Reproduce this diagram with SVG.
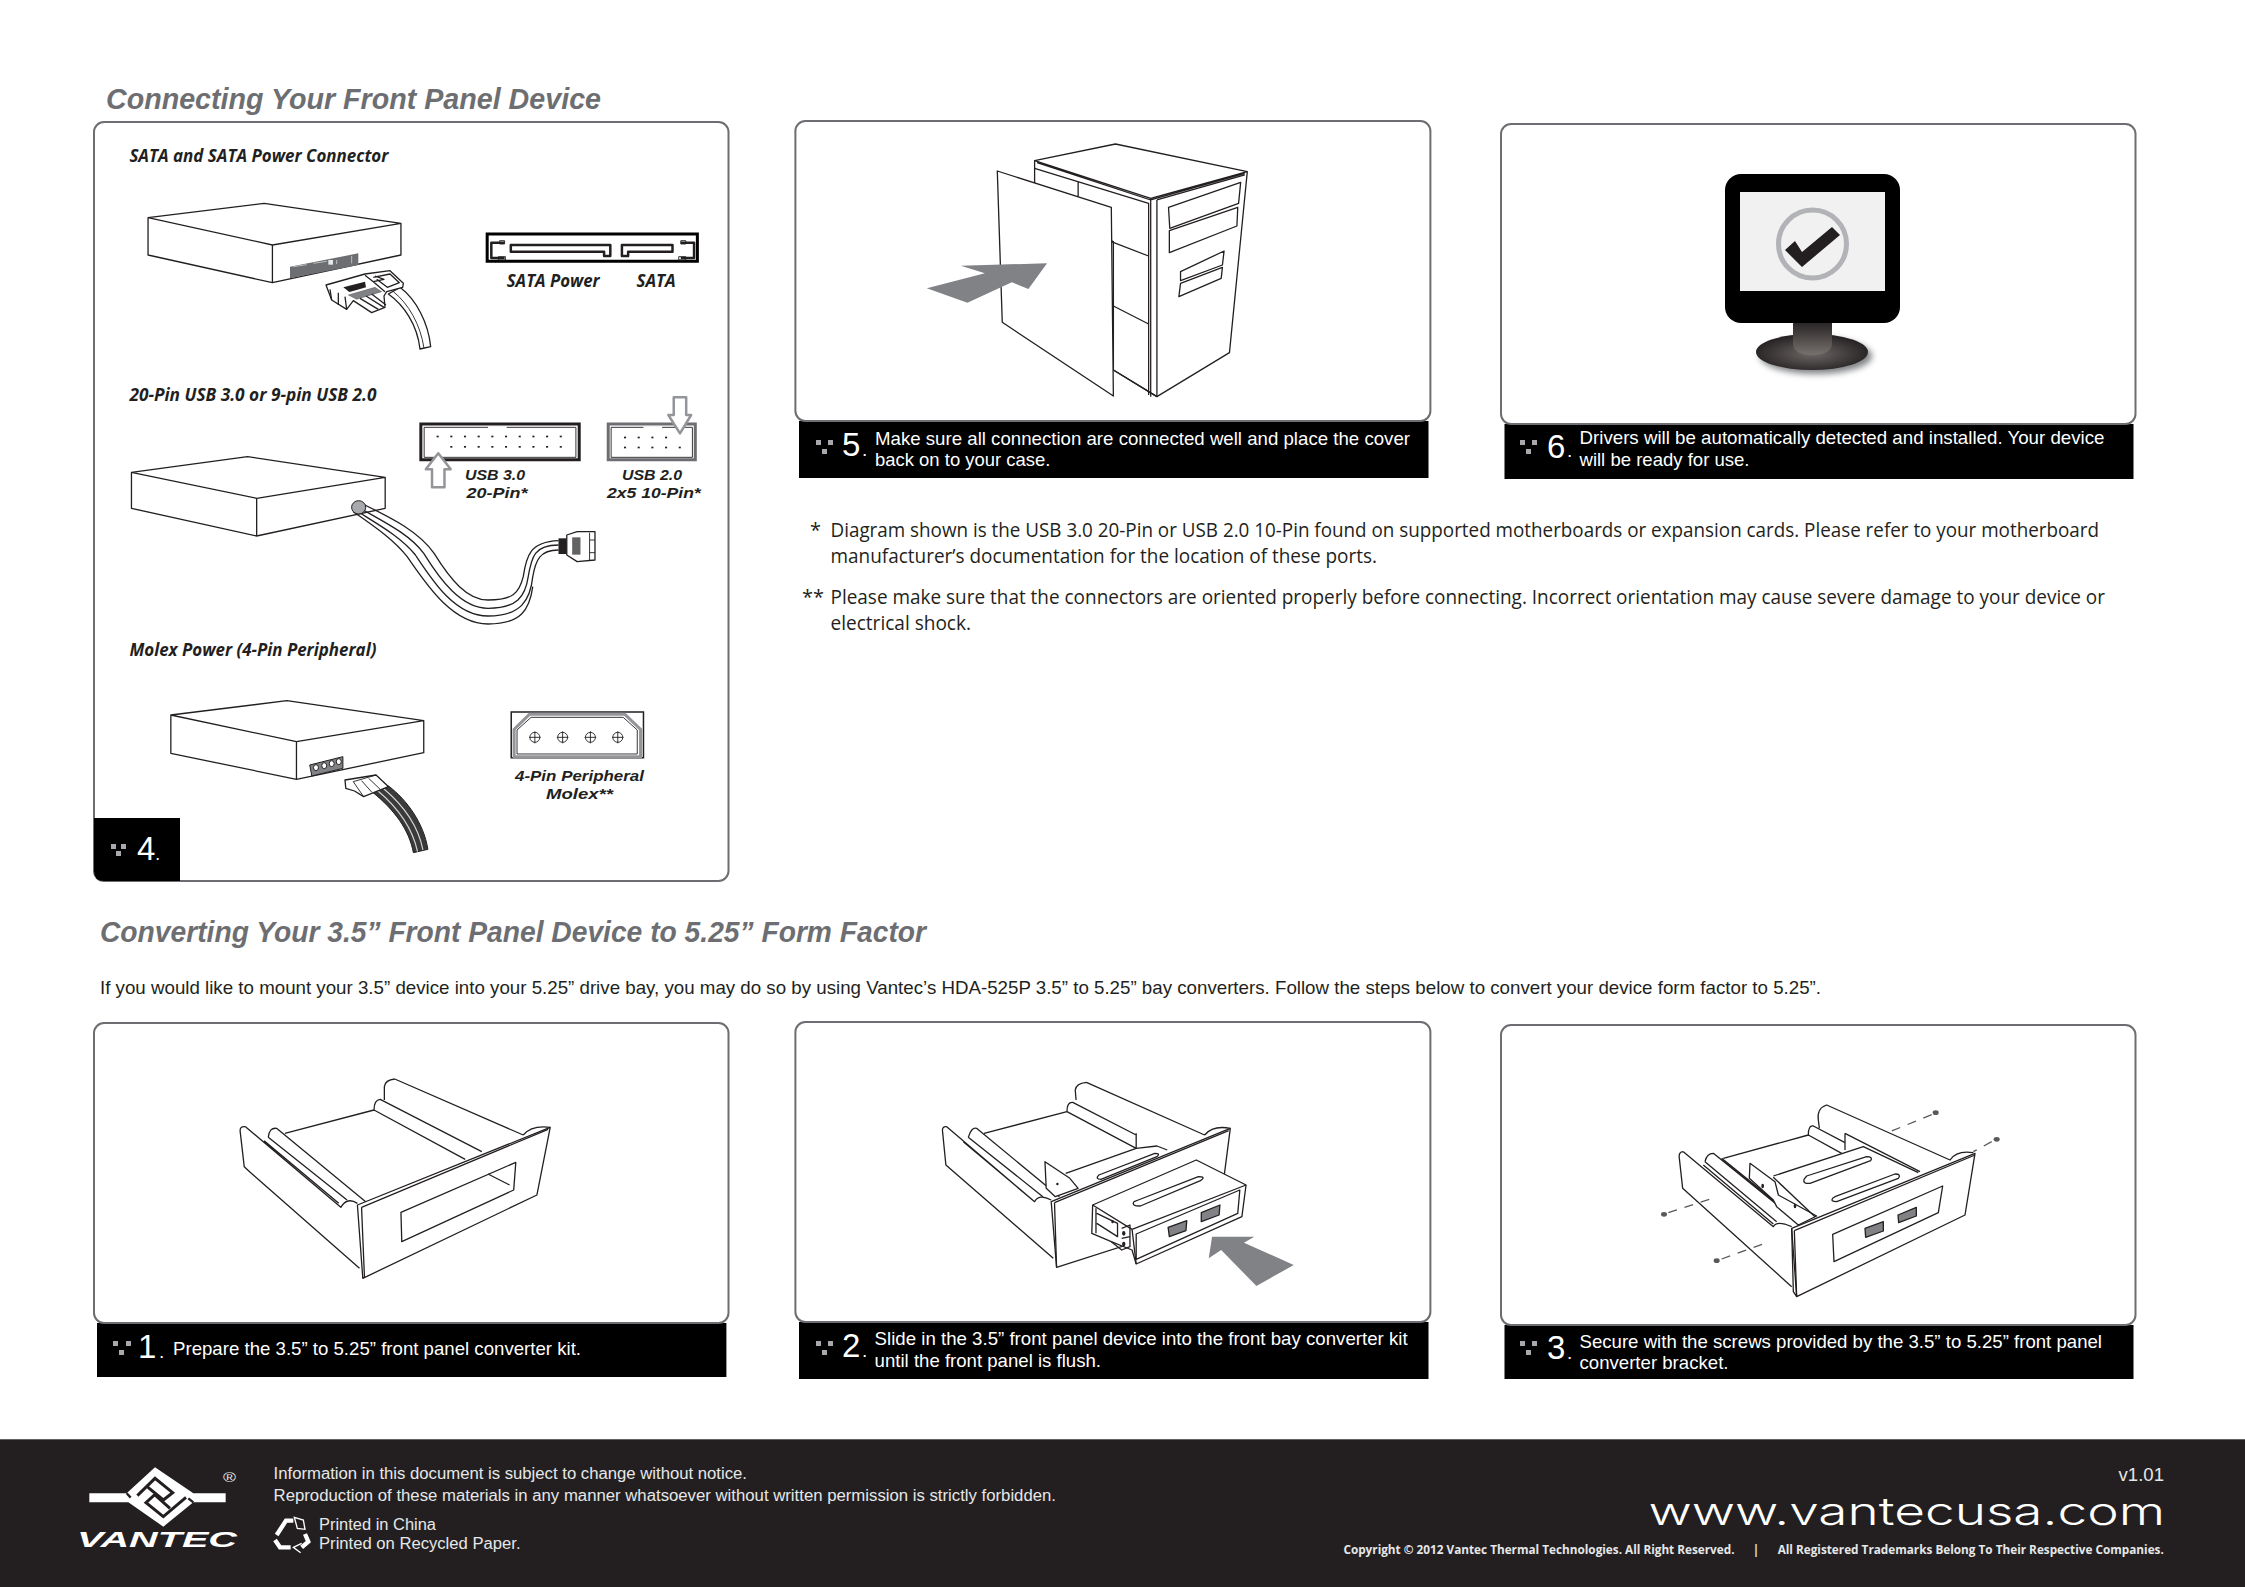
<svg xmlns="http://www.w3.org/2000/svg" width="2245" height="1587" viewBox="0 0 2245 1587">
<style>
.bg{fill:#fff}
.panel{fill:#fff;stroke:#6d6e71;stroke-width:2}
.strip{fill:#000}
.l,.lw,.g,.ln,.gp,.dash{vector-effect:non-scaling-stroke;stroke-linejoin:round}
.l{fill:none;stroke:#231f20;stroke-width:1.3}
.ln{fill:none;stroke:#231f20;stroke-width:.9}
.lw{fill:#fff;stroke:#231f20;stroke-width:1.3}
.gp{fill:#808285;stroke:#231f20;stroke-width:1.3}
.g{fill:#fff;stroke:#939598;stroke-width:2.5}
.dash{fill:none;stroke:#58595b;stroke-width:1.3;stroke-dasharray:9 8}
.k{fill:#231f20}
.scr{fill:#58595b}
.arrow{fill:#808285}
.h{font:italic bold 29px "Liberation Sans",Arial,sans-serif;fill:#6d6e71}
.s{font:19px "Liberation Sans",Arial,sans-serif;fill:#fff}
.n{font:33px "Liberation Sans",Arial,sans-serif;fill:#fff}
.p{font:18.5px "Liberation Sans",Arial,sans-serif;fill:#231f20}
.m{font:20px "Open Sans","Noto Sans",sans-serif;fill:#231f20}
.t{font:italic bold 18px "Open Sans","Noto Sans",sans-serif;fill:#231f20}
.u{font:italic bold 15.5px "Liberation Sans Narrow","Liberation Sans",Arial,sans-serif;fill:#231f20}
.f{font:16px "Liberation Sans",Arial,sans-serif;fill:#e6e7e8}
.c{font:bold 12.5px "Open Sans","Noto Sans",sans-serif;fill:#e6e7e8}
.d{fill:#a7a9ac}
</style>
<rect class="bg" width="2245" height="1587"/>

<g id="headings">
<text class="h" x="106" y="109" textLength="495" lengthAdjust="spacingAndGlyphs">Connecting Your Front Panel Device</text>
<text class="h" x="100" y="942" textLength="826" lengthAdjust="spacingAndGlyphs">Converting Your 3.5” Front Panel Device to 5.25” Form Factor</text>
<text class="p" x="100" y="994" textLength="1721" lengthAdjust="spacingAndGlyphs">If you would like to mount your 3.5” device into your 5.25” drive bay, you may do so by using Vantec’s HDA-525P 3.5” to 5.25” bay converters. Follow the steps below to convert your device form factor to 5.25”.</text>
</g>

<g id="step4">
<rect class="panel" x="94" y="122" width="634.5" height="759" rx="10"/>
<path class="strip" d="M94 818H180V881H104Q94 881 94 871Z"/>
<rect class="d" x="111" y="844" width="5" height="5"/><rect class="d" x="121" y="844" width="5" height="5"/><rect class="d" x="116" y="851" width="5" height="5"/>
<text class="n" x="137" y="860">4</text><text class="s" x="155" y="860">.</text>
<text class="t" x="129.4" y="161.7" textLength="259" lengthAdjust="spacingAndGlyphs">SATA and SATA Power Connector</text>
<text class="t" x="129.4" y="401" textLength="247" lengthAdjust="spacingAndGlyphs">20-Pin USB 3.0 or 9-pin USB 2.0</text>
<text class="t" x="129.4" y="656" textLength="247" lengthAdjust="spacingAndGlyphs">Molex Power (4-Pin Peripheral)</text>
<text class="t" x="506.7" y="286.7" textLength="93" lengthAdjust="spacingAndGlyphs">SATA Power</text>
<text class="t" x="636.4" y="286.7" textLength="39.4" lengthAdjust="spacingAndGlyphs">SATA</text>
<text class="u" x="465" y="480" textLength="60" lengthAdjust="spacingAndGlyphs">USB 3.0</text>
<text class="u" x="466.5" y="498" textLength="61" lengthAdjust="spacingAndGlyphs">20-Pin*</text>
<text class="u" x="622" y="480" textLength="60" lengthAdjust="spacingAndGlyphs">USB 2.0</text>
<text class="u" x="607" y="498" textLength="93.7" lengthAdjust="spacingAndGlyphs">2x5 10-Pin*</text>
<text class="u" x="515" y="781" textLength="129" lengthAdjust="spacingAndGlyphs">4-Pin Peripheral</text>
<text class="u" x="546" y="799" textLength="67" lengthAdjust="spacingAndGlyphs">Molex**</text>

<g id="sata-drive" transform="translate(90,120) scale(0.41459,0.33333)">
<path class="l" d="M140 293L420 250L750 310L440 375ZM140 293V405L440 488V375M440 488L750 405V310"/>
</g>
<g id="sata-plug" transform="translate(310,250) scale(0.33333)">
<path d="M-60 50L145 10V45L-60 85Z" fill="#6d6e71"/>
<path d="M-50 50L-10 44M10 40L50 34M80 30V42M125 18V40" stroke="#bcbec0" stroke-width="3" fill="none"/>
<rect x="55" y="30" width="14" height="14" fill="#e6e7e8"/>
<path class="lw" d="M330 297C322 225 282 165 235 132L270 112C320 150 355 220 362 290Z"/>
<path class="ln" d="M342 295C332 225 295 160 250 125"/>
<path class="lw" d="M48 105L165 72L240 62L280 100L278 112L230 125L222 138L225 172L185 188L130 152L110 178L65 150Z"/>
<path class="l" d="M165 76L190 95L222 88L195 78M190 95L225 125M190 82L240 72L268 98L232 112L200 88M65 150L60 118M85 165V128M110 178L105 140"/>
<path class="k" d="M100 112L165 95L168 112L140 120L118 126Z"/>
<path d="M115 135L195 112L215 125L140 148Z" fill="#808285" stroke="#231f20" stroke-width="1"/>
<path class="l" d="M150 145L205 178M168 138L222 172M185 132L228 165"/>
</g>

<g id="sata-diagram" transform="translate(90,120) scale(0.41459,0.33333)">
<rect x="958" y="342" width="507" height="82" fill="#fff" stroke="#000" stroke-width="3" vector-effect="non-scaling-stroke"/>
<path class="l" style="stroke-width:2.5" d="M1000 368H968V414H1000M1425 368H1457V414H1425"/>
<path class="ln" d="M988 362H1000V372H988ZM985 410H1002V420H985ZM1425 362H1437V372H1425ZM1420 410H1437V420H1420Z"/>
<path class="lw" style="stroke-width:2.5" d="M1015 375H1255V408H1240V395H1015Z"/>
<path class="lw" style="stroke-width:2.5" d="M1283 375H1405V395H1298V408H1283Z"/>
</g>

<g id="usb30-header" transform="translate(90,120) scale(0.41459,0.33333)">
<rect x="798" y="912" width="382" height="107" fill="#fff" stroke="#231f20" stroke-width="3" vector-effect="non-scaling-stroke"/>
<rect x="806" y="922" width="366" height="90" class="ln"/>
<rect x="960" y="919" width="45" height="6" fill="#fff"/>
<g class="k">
<rect x="836" y="947" width="5" height="5"/><rect x="869" y="947" width="5" height="5"/><rect x="902" y="947" width="5" height="5"/><rect x="935" y="947" width="5" height="5"/><rect x="968" y="947" width="5" height="5"/><rect x="1001" y="947" width="5" height="5"/><rect x="1034" y="947" width="5" height="5"/><rect x="1067" y="947" width="5" height="5"/><rect x="1100" y="947" width="5" height="5"/><rect x="1133" y="947" width="5" height="5"/>
<rect x="869" y="978" width="5" height="5"/><rect x="902" y="978" width="5" height="5"/><rect x="935" y="978" width="5" height="5"/><rect x="968" y="978" width="5" height="5"/><rect x="1001" y="978" width="5" height="5"/><rect x="1034" y="978" width="5" height="5"/><rect x="1067" y="978" width="5" height="5"/><rect x="1100" y="978" width="5" height="5"/><rect x="1133" y="978" width="5" height="5"/>
</g>
<path class="g" d="M840 1000L870 1048H855V1102H825V1048H810Z"/>
</g>

<g id="usb20-header" transform="translate(90,120) scale(0.41459,0.33333)">
<rect x="1250" y="912" width="210" height="107" fill="#fff" stroke="#6d6e71" stroke-width="3" vector-effect="non-scaling-stroke"/>
<rect x="1257" y="922" width="196" height="90" class="ln"/>
<rect x="1335" y="919" width="45" height="6" fill="#fff"/>
<g class="k">
<rect x="1288" y="950" width="5" height="5"/><rect x="1321" y="950" width="5" height="5"/><rect x="1354" y="950" width="5" height="5"/><rect x="1387" y="950" width="5" height="5"/>
<rect x="1288" y="980" width="5" height="5"/><rect x="1321" y="980" width="5" height="5"/><rect x="1354" y="980" width="5" height="5"/><rect x="1387" y="980" width="5" height="5"/><rect x="1420" y="980" width="5" height="5"/>
</g>
<path class="g" d="M1423 940L1450 885H1438V832H1408V885H1395Z"/>
</g>

<g id="usb-drive" transform="translate(90,530) scale(0.41459,0.33333)">
<path class="l" d="M100 -173L380 -220L712 -158L402 -95ZM100 -173V-65L402 18V-95M402 18L712 -65V-158"/>
<path class="l" d="M655 -80C720 -40 790 0 830 70C870 150 910 210 960 210C1020 210 1035 190 1045 140C1052 80 1060 35 1130 32"/>
<path class="l" d="M645 -70C700 -30 770 10 805 70C845 150 895 235 960 235C1030 235 1050 200 1057 140C1065 80 1072 45 1130 45"/>
<path class="l" d="M640 -60C690 -20 750 20 785 75C825 150 880 258 960 258C1040 258 1062 210 1068 140C1075 90 1085 60 1130 60"/>
<path class="l" d="M635 -55C680 -15 730 25 765 80C805 150 870 282 960 282C1040 282 1060 240 1068 170"/>
<ellipse cx="648" cy="-68" rx="17" ry="20" fill="#a7a9ac" stroke="#231f20" stroke-width="1" vector-effect="non-scaling-stroke"/>
<rect class="k" x="1130" y="25" width="20" height="47"/>
<path class="lw" d="M1150 15L1175 5H1218V90L1175 95L1150 75Z"/>
<rect class="k" x="1163" y="22" width="20" height="52" fill-opacity=".7"/>
<path class="ln" d="M1205 8V92M1205 30H1218M1205 68H1218"/>
</g>

<g id="molex-drive" transform="translate(90,530) scale(0.41459,0.33333)">
<path class="l" d="M195 555L475 512L805 572L498 635ZM195 555V670L498 748V635M498 748L805 668V572"/>
<path d="M530 705L610 680V715L535 738Z" fill="#808285" stroke="#231f20" vector-effect="non-scaling-stroke"/>
<ellipse cx="545" cy="713" rx="6" ry="9" fill="#fff" stroke="#231f20" vector-effect="non-scaling-stroke"/><ellipse cx="565" cy="707" rx="6" ry="9" fill="#fff" stroke="#231f20" vector-effect="non-scaling-stroke"/><ellipse cx="583" cy="701" rx="6" ry="9" fill="#fff" stroke="#231f20" vector-effect="non-scaling-stroke"/><ellipse cx="600" cy="695" rx="6" ry="9" fill="#fff" stroke="#231f20" vector-effect="non-scaling-stroke"/>
<path d="M680 785C735 840 770 900 780 968L815 958C805 880 765 810 720 768Z" fill="#3a3a3a" stroke="#231f20" vector-effect="non-scaling-stroke"/>
<path d="M692 780C745 835 778 895 790 965M707 775C760 830 792 890 803 960" stroke="#d1d3d4" stroke-width="1.2" fill="none" vector-effect="non-scaling-stroke"/>
<path class="lw" d="M615 750L690 735L720 770L660 800L638 783L617 775Z"/>
<path class="ln" d="M635 755L660 800M635 755L690 735M655 752L680 787M672 745L700 778"/>
</g>

<g id="molex-diagram" transform="translate(90,530) scale(0.41459,0.33333)">
<rect x="1016" y="546" width="319" height="137" fill="#fff" stroke="#231f20" stroke-width="1.5" vector-effect="non-scaling-stroke"/>
<path d="M1023 680V598L1060 553H1290L1328 598V680Z" fill="#fff" stroke="#939598" stroke-width="3" vector-effect="non-scaling-stroke"/>
<path class="ln" d="M1030 672V600L1064 562H1286L1320 600V672Z"/>
<ellipse class="ln" cx="1073" cy="622" rx="12" ry="15"/><ellipse class="ln" cx="1140" cy="622" rx="12" ry="15"/><ellipse class="ln" cx="1207" cy="622" rx="12" ry="15"/><ellipse class="ln" cx="1273" cy="622" rx="12" ry="15"/>
<path class="ln" d="M1059 622H1087M1073 604V640M1126 622H1154M1140 604V640M1193 622H1221M1207 604V640M1259 622H1287M1273 604V640"/>
</g>
</g>

<g id="step5">
<rect class="strip" x="799" y="421" width="629.5" height="57"/>
<rect class="panel" x="795.4" y="121" width="635" height="300" rx="10"/>
<rect class="d" x="816" y="440" width="5" height="5"/><rect class="d" x="828" y="440" width="5" height="5"/><rect class="d" x="822" y="449" width="5" height="5"/>
<text class="n" x="842" y="456">5</text><text class="s" x="862" y="456">.</text>
<text class="s" x="875" y="445" textLength="535" lengthAdjust="spacingAndGlyphs">Make sure all connection are connected well and place the cover</text>
<text class="s" x="875" y="466" textLength="175.4" lengthAdjust="spacingAndGlyphs">back on to your case.</text>
<g transform="translate(790,120) scale(0.41459,0.33333)">
<path class="lw" d="M590 122L785 72L1103 155L1060 698L885 830L780 750V365L590 270Z"/>
<path class="l" d="M590 122L870 235L1103 155M596 128L870 240L1097 160M590 145L865 250V825M870 235V830M885 240V830M885 240L1097 165M695 185V235M775 365L865 408M780 558L865 612M780 750L885 830"/>
<path class="l" d="M913 262L1087 187L1082 250L916 325ZM915 332L1080 262L1078 318L915 398Z"/>
<path class="l" d="M942 455L1047 393L1043 435L942 482ZM942 490L1043 442L1040 475L938 530Z"/>
<path class="lw" d="M500 153L775 262L780 828L512 607Z"/>
<path class="arrow" d="M330 505L470 460L412 437L620 430L575 507L535 487L428 548Z"/>
</g>
</g>

<g id="step6">
<rect class="strip" x="1504.5" y="424" width="629" height="55"/>
<rect class="panel" x="1501" y="124" width="634.5" height="300" rx="10"/>
<rect class="d" x="1520" y="440" width="5" height="5"/><rect class="d" x="1532" y="440" width="5" height="5"/><rect class="d" x="1526" y="449" width="5" height="5"/>
<text class="n" x="1547" y="458">6</text><text class="s" x="1567" y="457">.</text>
<text class="s" x="1579.5" y="444" textLength="525" lengthAdjust="spacingAndGlyphs">Drivers will be automatically detected and installed. Your device</text>
<text class="s" x="1579.5" y="466" textLength="170" lengthAdjust="spacingAndGlyphs">will be ready for use.</text>
<defs>
<linearGradient id="neck" x1="0" x2="0" y1="0" y2="1"><stop offset="0" stop-color="#231f20"/><stop offset="1" stop-color="#77716e"/></linearGradient>
<radialGradient id="base" cx="0.5" cy="0.55" r="0.55"><stop offset="0" stop-color="#6d6866"/><stop offset="1" stop-color="#231f20"/></radialGradient>
<filter id="blur" x="-20%" y="-40%" width="140%" height="180%"><feGaussianBlur stdDeviation="3"/></filter>
</defs>
<ellipse cx="1816" cy="356" rx="56" ry="18" fill="#808285" filter="url(#blur)"/>
<ellipse cx="1812" cy="352" rx="56" ry="18" fill="url(#base)"/>
<path d="M1793 320H1832V343Q1832 355 1812 355Q1793 355 1793 343Z" fill="url(#neck)"/>
<rect x="1725" y="174" width="175" height="149" rx="16" fill="#000"/>
<rect x="1740" y="192" width="145" height="99" fill="#f1f1f2"/>
<circle cx="1812.5" cy="244" r="34" fill="none" stroke="#b1b3b6" stroke-width="5"/>
<path d="M1785 250L1802 267L1840 235L1832 227L1802 252L1795 241Z" fill="#231f20"/>
</g>

<g id="notes">
<text class="m" x="810" y="537">*</text>
<text class="m" x="830.5" y="537" textLength="1268.5" lengthAdjust="spacingAndGlyphs">Diagram shown is the USB 3.0 20-Pin or USB 2.0 10-Pin found on supported motherboards or expansion cards. Please refer to your motherboard</text>
<text class="m" x="830.5" y="563" textLength="546.5" lengthAdjust="spacingAndGlyphs">manufacturer’s documentation for the location of these ports.</text>
<text class="m" x="802" y="604">**</text>
<text class="m" x="830.5" y="604" textLength="1274.5" lengthAdjust="spacingAndGlyphs">Please make sure that the connectors are oriented properly before connecting. Incorrect orientation may cause severe damage to your device or</text>
<text class="m" x="830.5" y="630" textLength="140.5" lengthAdjust="spacingAndGlyphs">electrical shock.</text>
</g>

<g id="step1">
<rect class="strip" x="97" y="1323" width="629.4" height="54"/>
<rect class="panel" x="94" y="1023" width="634.5" height="300" rx="10"/>
<rect class="d" x="113" y="1341" width="5" height="5"/><rect class="d" x="126" y="1341" width="5" height="5"/><rect class="d" x="119" y="1350" width="5" height="5"/>
<text class="n" x="138" y="1358">1</text><text class="s" x="159" y="1358">.</text>
<text class="s" x="173" y="1355" textLength="408" lengthAdjust="spacingAndGlyphs">Prepare the 3.5” to 5.25” front panel converter kit.</text>
<g transform="translate(90,1020) scale(0.41459,0.33333)">
<path class="l" d="M735 177Q712 180 710 200V240M735 177L1045 345M1045 345Q1065 315 1110 322"/>
<path class="l" d="M685 270Q685 240 700 238L945 395M685 270L905 418M470 340L685 270"/>
<path class="l" d="M375 320Q362 318 362 332L372 440L385 455L650 745M375 320L605 562Q620 530 645 550M420 362L600 550"/>
<path class="l" d="M430 352Q432 322 450 325L665 545M430 352L620 540"/>
<path class="lw" d="M645 555L1110 322L1078 525L658 775Z"/>
<path class="l" d="M655 562L1105 328M655 562L662 772"/>
<path class="l" d="M750 577L1027 427L1022 510L752 665Z"/>
<path class="l" d="M960 462L1012 495"/>
</g>
</g>

<g id="step2">
<rect class="strip" x="799" y="1322" width="629.5" height="57"/>
<rect class="panel" x="795.4" y="1022" width="635" height="300" rx="10"/>
<rect class="d" x="816" y="1341" width="5" height="5"/><rect class="d" x="828" y="1341" width="5" height="5"/><rect class="d" x="822" y="1350" width="5" height="5"/>
<text class="n" x="842" y="1357">2</text><text class="s" x="862" y="1357">.</text>
<text class="s" x="874.6" y="1345" textLength="533" lengthAdjust="spacingAndGlyphs">Slide in the 3.5” front panel device into the front bay converter kit</text>
<text class="s" x="874.6" y="1367" textLength="226.4" lengthAdjust="spacingAndGlyphs">until the front panel is flush.</text>
<g transform="translate(790,1020) scale(0.41459,0.33333)">
<path class="l" d="M715 187Q690 190 688 210L690 240M715 187L1000 345M1000 345Q1020 315 1062 325"/>
<path class="l" d="M468 340L668 275M668 275Q668 245 682 247L835 345M668 275L835 385M835 340V385L885 378L910 390"/>
<path class="l" d="M378 320Q366 318 368 335L376 435L635 715M378 320L590 545Q600 520 630 540M418 365L585 540"/>
<path class="l" d="M430 352Q438 320 450 325L650 530M430 352L610 530"/>
<path class="lw" d="M615 425L675 475L695 505L640 530L618 505Z"/>
<ellipse class="k" cx="645" cy="492" rx="3" ry="4"/>
<path class="l" d="M665 460L835 385M745 465L880 400Q895 400 885 410L750 478Q735 478 745 465Z"/>
<path class="lw" d="M630 545L1062 325L1048 460L1000 600L643 742Z"/>
<path class="l" d="M638 548L1058 332M638 548L643 742"/>
<path class="lw" d="M730 555L980 420L1100 495L1090 590L835 732L825 690L775 665L728 640Z"/>
<path class="l" d="M730 555L825 628L1100 495M825 628L835 732"/>
<path class="l" d="M835 642L1085 510L1080 580L835 718Z"/>
<path class="l" d="M840 540L985 470Q1005 470 990 482L845 558Q822 558 830 545Z"/>
<path class="gp" d="M912 622L957 602L955 632L915 650Z"/>
<path class="gp" d="M992 578L1037 555L1035 585L992 605Z"/>
<path class="l" d="M740 580L790 610V650L740 610M800 625L820 615V650L800 655M775 665L800 690L820 680V640M738 565V640"/>
<ellipse class="k" cx="778" cy="605" rx="3" ry="5"/><ellipse class="k" cx="805" cy="640" rx="4" ry="7"/><ellipse class="k" cx="805" cy="672" rx="4" ry="7"/>
<path class="arrow" d="M1010 715L1018 650H1120L1095 668L1215 735L1125 798L1040 690Z"/>
</g>
</g>

<g id="step3">
<rect class="strip" x="1504.5" y="1325" width="629" height="54"/>
<rect class="panel" x="1501" y="1025" width="634.5" height="300" rx="10"/>
<rect class="d" x="1520" y="1341" width="5" height="5"/><rect class="d" x="1532" y="1341" width="5" height="5"/><rect class="d" x="1526" y="1350" width="5" height="5"/>
<text class="n" x="1547" y="1359">3</text><text class="s" x="1567" y="1359">.</text>
<text class="s" x="1579.5" y="1348" textLength="522.5" lengthAdjust="spacingAndGlyphs">Secure with the screws provided by the 3.5” to 5.25” front panel</text>
<text class="s" x="1579.5" y="1369" textLength="149" lengthAdjust="spacingAndGlyphs">converter bracket.</text>
<g transform="translate(1660,1100) scale(0.33333)">
<path class="l" d="M475 60Q470 25 500 15L870 180Q890 150 940 158M475 60L478 85"/>
<path class="l" d="M445 105Q445 75 460 78L555 128M445 105L545 160M190 175L445 105"/>
<path class="l" d="M555 100V150M555 100L780 215M340 228L610 140L775 218"/>
<path class="l" d="M440 228L620 170Q640 170 632 182L450 250Q428 252 432 238Z"/>
<path class="l" d="M525 290L705 222Q725 222 715 235L530 305Q510 305 518 295Z"/>
<path class="l" d="M70 155Q55 155 58 175L68 265L395 560M70 155L340 380Q350 360 395 380M130 195L340 372"/>
<path class="l" d="M135 185Q140 160 160 160L420 370M135 185L350 365M185 175L340 300"/>
<path class="lw" d="M270 190L345 245L355 285L470 348L415 375L350 320L340 300L268 235Z"/>
<path class="l" d="M340 232L465 350"/>
<ellipse class="k" cx="308" cy="258" rx="4" ry="7"/><ellipse class="k" cx="405" cy="318" rx="4" ry="7"/>
<path class="lw" d="M395 385L945 160L915 345L410 590Z"/>
<path class="l" d="M403 392L945 165M403 392L410 590M395 385L400 575L410 590"/>
<path class="l" d="M518 403L848 258L835 338L522 485Z"/>
<path class="gp" d="M615 385L670 365V393L617 412Z"/>
<path class="gp" d="M714 345L769 322V348L716 368Z"/>
<path class="dash" d="M25 338L158 295M185 477L315 430M815 44L690 95M995 125L940 155"/>
<ellipse class="scr" cx="12" cy="343" rx="9" ry="7"/><ellipse class="scr" cx="170" cy="482" rx="9" ry="7"/><ellipse class="scr" cx="827" cy="38" rx="9" ry="7"/><ellipse class="scr" cx="1010" cy="118" rx="9" ry="7"/>
</g>
</g>

<g id="footer">
<rect y="1439.3" width="2245" height="147.7" fill="#231f20"/>
<g id="logo" transform="translate(60,1460) scale(0.33333)">
<path fill="#fff" d="M88 100H200L285 22L400 100H497V127H400L310 200L205 127H88Z"/>
<path fill="none" stroke="#231f20" stroke-width="9" d="M232 107L285 55L338 98L310 120L264 82M378 112L310 170L258 128L284 104L330 145"/>
<path fill="none" stroke="#231f20" stroke-width="7" d="M200 100L212 113M400 127L385 115"/>
</g>
<text x="77" y="1547" textLength="160" lengthAdjust="spacingAndGlyphs" style="font:italic bold 22px 'Liberation Sans',Arial,sans-serif;fill:#fff">VANTEC</text>
<text x="223" y="1482" textLength="13" lengthAdjust="spacingAndGlyphs" style="font:13px 'Liberation Sans',Arial,sans-serif;fill:#e6e7e8">®</text>
<text class="f" x="273.6" y="1479" textLength="473.4" lengthAdjust="spacingAndGlyphs">Information in this document is subject to change without notice.</text>
<text class="f" x="273.6" y="1500.7" textLength="782.4" lengthAdjust="spacingAndGlyphs">Reproduction of these materials in any manner whatsoever without written permission is strictly forbidden.</text>
<g id="recycle" transform="translate(60,1460) scale(0.33333)" fill="none" stroke="#fff">
<path stroke-width="13" d="M650 225L678 182H700"/>
<path stroke-width="4" d="M703 172L730 180L735 208L712 205Z"/>
<path stroke-width="13" d="M735 222L745 245L725 262"/>
<path stroke-width="4" d="M725 250L700 262L722 278"/>
<path stroke-width="13" d="M692 262H660L645 240"/>
</g>
<text class="f" x="319" y="1530" textLength="117" lengthAdjust="spacingAndGlyphs">Printed in China</text>
<text class="f" x="319" y="1549" textLength="201.5" lengthAdjust="spacingAndGlyphs">Printed on Recycled Paper.</text>
<text x="2118.6" y="1480.7" textLength="45.4" lengthAdjust="spacingAndGlyphs" style="font:19px 'Liberation Sans',Arial,sans-serif;fill:#e6e7e8">v1.01</text>
<text x="1648.4" y="1525" textLength="516.6" lengthAdjust="spacingAndGlyphs" style="font:38px 'Inter','DejaVu Sans',sans-serif;font-weight:300;fill:#fff">www.vantecusa.com</text>
<text class="c" x="1343.4" y="1554" textLength="820.4" lengthAdjust="spacingAndGlyphs">Copyright © 2012 Vantec Thermal Technologies. All Right Reserved.&#160;&#160;&#160;&#160;&#160;&#160;|&#160;&#160;&#160;&#160;&#160;&#160;All Registered Trademarks Belong To Their Respective Companies.</text>
</g>
</svg>
